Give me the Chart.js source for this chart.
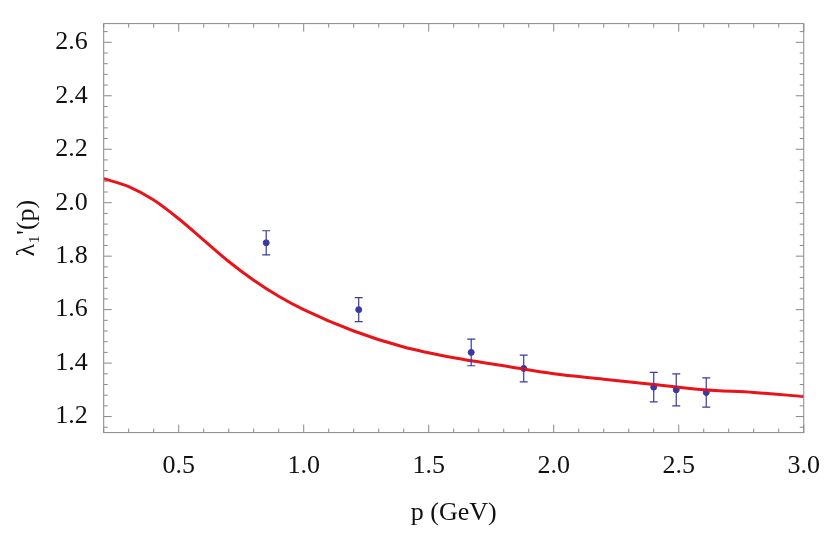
<!DOCTYPE html>
<html><head><meta charset="utf-8">
<script src="https://cdn.jsdelivr.net/npm/chart.js@4"></script>
<style>body{margin:0;background:#fff}#w{width:830px;height:535px}</style>
</head><body><div id="w"><canvas id="c"></canvas></div>
<script>
const curveX=[0.2,0.3,0.4,0.5,0.6,0.7,0.8,0.9,1.0,1.2,1.4,1.6,1.8,2.0,2.2,2.4,2.6,2.8,3.0];
const curveY=[2.09,2.06,2.01,1.94,1.86,1.78,1.71,1.65,1.60,1.52,1.46,1.42,1.39,1.36,1.34,1.32,1.30,1.29,1.275];
const ptsX=[0.85,1.22,1.67,1.88,2.40,2.49,2.61];
const ptsY=[1.85,1.60,1.44,1.38,1.31,1.30,1.29];
const ptsErr=[0.045,0.045,0.05,0.05,0.055,0.06,0.055];
const xTicks=[0.5,1.0,1.5,2.0,2.5,3.0];
const yTicks=[1.2,1.4,1.6,1.8,2.0,2.2,2.4,2.6];
const F='"Times New Roman", "Liberation Serif", Times, serif';
const extras={id:'extras',afterDatasetsDraw(ch){
 const c=ch.ctx,x=ch.scales.x,y=ch.scales.y,a=ch.chartArea;
 c.save();
 c.strokeStyle='#3a3aa0';c.lineWidth=1.2;
 ptsX.forEach((v,i)=>{const px=x.getPixelForValue(v),t=y.getPixelForValue(ptsY[i]+ptsErr[i]),b=y.getPixelForValue(ptsY[i]-ptsErr[i]);
  c.beginPath();c.moveTo(px,t);c.lineTo(px,b);c.moveTo(px-4,t);c.lineTo(px+4,t);c.moveTo(px-4,b);c.lineTo(px+4,b);c.stroke();});
 c.strokeStyle='#888';c.lineWidth=1;
 c.strokeRect(a.left,a.top,a.right-a.left,a.bottom-a.top);
 for(let v=0.2;v<=3.001;v+=0.1){const px=x.getPixelForValue(v);const maj=Math.abs(v*2-Math.round(v*2))<1e-6;const L=maj?8:4;
  c.beginPath();c.moveTo(px,a.bottom);c.lineTo(px,a.bottom-L);c.moveTo(px,a.top);c.lineTo(px,a.top+L);c.stroke();}
 for(let v=1.16;v<=2.67;v+=0.04){const py=y.getPixelForValue(v);const maj=Math.abs(v*5-Math.round(v*5))<1e-6;const L=maj?8:4;
  c.beginPath();c.moveTo(a.left,py);c.lineTo(a.left+L,py);c.moveTo(a.right,py);c.lineTo(a.right-L,py);c.stroke();}
 c.restore();}};
new Chart(document.getElementById('c'),{
 data:{datasets:[
  {type:'line',data:curveX.map((v,i)=>({x:v,y:curveY[i]})),borderColor:'#e8141a',borderWidth:3,pointRadius:0,tension:0.4,cubicInterpolationMode:'monotone'},
  {type:'scatter',data:ptsX.map((v,i)=>({x:v,y:ptsY[i]})),backgroundColor:'#3a3aa0',borderColor:'#3a3aa0',pointRadius:3}
 ]},
 options:{responsive:true,maintainAspectRatio:false,animation:false,
  layout:{padding:{top:0,right:12,left:8,bottom:2}},
  plugins:{legend:{display:false},tooltip:{enabled:false}},
  scales:{
   x:{type:'linear',min:0.2,max:3.0,grid:{display:false},border:{display:false},
     afterBuildTicks:s=>{s.ticks=xTicks.map(v=>({value:v}))},
     ticks:{color:'#111',font:{family:F,size:26},padding:10,callback:v=>v.toFixed(1)},
     title:{display:true,text:'p (GeV)',color:'#111',font:{family:F,size:26},padding:{top:6}}},
   y:{type:'linear',min:1.14,max:2.67,grid:{display:false},border:{display:false},
     afterBuildTicks:s=>{s.ticks=yTicks.map(v=>({value:v}))},
     ticks:{color:'#111',font:{family:F,size:26},padding:8,callback:v=>v.toFixed(1)},
     title:{display:true,text:"λ₁'(p)",color:'#111',font:{family:F,size:26}}}
  }},
 plugins:[extras]});
</script></body></html>
